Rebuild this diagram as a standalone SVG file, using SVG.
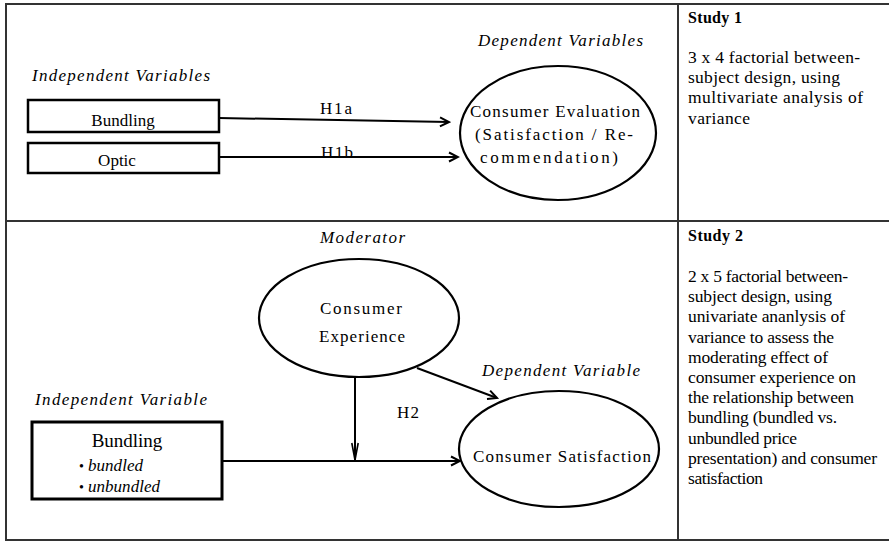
<svg xmlns="http://www.w3.org/2000/svg" width="889" height="543" viewBox="0 0 889 543">
<style>
text{font-family:"Liberation Serif","Times New Roman",serif;fill:#000;}
.it{font-style:italic;font-size:17px;}
.lb{font-size:17px;}
.st{font-size:17.5px;}
.hd{font-size:16px;font-weight:bold;}
.frame{stroke:#333;stroke-width:2;fill:none;}
.box{fill:#fff;stroke:#000;stroke-width:2.5;}
.ell{fill:#fff;stroke:#000;stroke-width:2.2;}
.con{stroke:#000;stroke-width:2;fill:none;}
</style>
<defs>
<marker id="ah" markerWidth="12" markerHeight="12" refX="10" refY="5" orient="auto" markerUnits="userSpaceOnUse" viewBox="0 0 12 10">
<path d="M1,0.5 L10,5 L1,9.5" fill="none" stroke="#000" stroke-width="2"/>
</marker>
<marker id="ahn" markerWidth="20" markerHeight="8" refX="18" refY="4" orient="auto" markerUnits="userSpaceOnUse" viewBox="0 0 20 8">
<path d="M1,0.8 L18,4 L1,7.2" fill="none" stroke="#000" stroke-width="1.6"/>
</marker>
</defs>
<rect width="889" height="543" fill="#fff"/>
<g id="frame">
<line class="frame" x1="5" y1="4" x2="889" y2="4"/>
<line class="frame" x1="5" y1="221" x2="889" y2="221"/>
<line class="frame" x1="5" y1="540" x2="889" y2="540"/>
<line class="frame" x1="6" y1="4" x2="6" y2="540"/>
<line class="frame" x1="678" y1="4" x2="678" y2="540"/>
</g>
<g id="labels">
<text class="it" x="32" y="81" textLength="178">Independent Variables</text>
<text class="it" x="478" y="46" textLength="165">Dependent Variables</text>
<text class="it" x="320" y="243" textLength="85">Moderator</text>
<text class="it" x="35" y="405" textLength="172">Independent Variable</text>
<text class="it" x="482" y="376" textLength="158">Dependent Variable</text>
</g>
<g id="connectors">
<line class="con" x1="219" y1="118" x2="449" y2="122" marker-end="url(#ah)"/>
<line class="con" x1="219" y1="157" x2="458" y2="157" marker-end="url(#ah)"/>
<line class="con" x1="222" y1="461" x2="460" y2="461" marker-end="url(#ah)"/>
<line class="con" x1="355" y1="377" x2="355" y2="460" marker-end="url(#ahn)"/>
<line class="con" x1="417" y1="368" x2="497" y2="398" marker-end="url(#ah)"/>
<text class="lb" x="320" y="114" textLength="32">H1a</text>
<text class="lb" x="321" y="158" textLength="32">H1b</text>
<text class="lb" x="397" y="418" textLength="22">H2</text>
</g>
<g id="node-bundling1">
<rect class="box" x="28" y="100" width="191" height="32"/>
<text class="lb" x="123" y="126" text-anchor="middle">Bundling</text>
</g>
<g id="node-optic">
<rect class="box" x="28" y="143" width="191" height="30"/>
<text class="lb" x="117" y="166" text-anchor="middle">Optic</text>
</g>
<g id="node-evaluation">
<ellipse class="ell" cx="558" cy="133" rx="98" ry="67"/>
<text class="lb" x="470" y="117" textLength="170">Consumer Evaluation</text>
<text class="lb" x="475" y="140" textLength="158">(Satisfaction / Re-</text>
<text class="lb" x="480" y="163" textLength="138">commendation)</text>
</g>
<g id="node-experience">
<ellipse class="ell" cx="359" cy="318" rx="100" ry="59"/>
<text class="lb" x="320" y="314" textLength="82">Consumer</text>
<text class="lb" x="319" y="342" textLength="86">Experience</text>
</g>
<g id="node-bundling2">
<rect x="32" y="422" width="190" height="77" fill="#fff" stroke="#000" stroke-width="3"/>
<text x="127" y="447" text-anchor="middle" font-size="19">Bundling</text>
<text x="79" y="471" font-size="14">•</text>
<text class="it" x="88" y="471" textLength="55">bundled</text>
<text x="79" y="492" font-size="14">•</text>
<text class="it" x="88" y="492" textLength="72">unbundled</text>
</g>
<g id="node-satisfaction">
<ellipse class="ell" cx="559" cy="449" rx="100" ry="58"/>
<text class="lb" x="473" y="462" textLength="178">Consumer Satisfaction</text>
</g>
<g id="study1">
<text class="hd" x="688" y="23" textLength="54">Study 1</text>
<text class="st" x="688" y="63" textLength="172">3 x 4 factorial  between-</text>
<text class="st" x="688" y="83" textLength="152">subject design, using</text>
<text class="st" x="688" y="103" textLength="175">multivariate  analysis  of</text>
<text class="st" x="688" y="123.5" textLength="62">variance</text>
</g>
<g id="study2">
<text class="hd" x="688" y="241" textLength="55">Study 2</text>
<text class="st" x="688" y="282" textLength="160">2 x 5 factorial  between-</text>
<text class="st" x="688" y="302.2" textLength="144">subject design, using</text>
<text class="st" x="688" y="322.4" textLength="157">univariate ananlysis  of</text>
<text class="st" x="688" y="342.6" textLength="146">variance to assess the</text>
<text class="st" x="688" y="362.8" textLength="140">moderating  effect  of</text>
<text class="st" x="688" y="383" textLength="168">consumer experience  on</text>
<text class="st" x="688" y="403.2" textLength="166">the relationship  between</text>
<text class="st" x="688" y="423.4" textLength="149">bundling (bundled vs.</text>
<text class="st" x="688" y="443.6" textLength="109">unbundled price</text>
<text class="st" x="688" y="463.8" textLength="189">presentation) and consumer</text>
<text class="st" x="688" y="484" textLength="75">satisfaction</text>
</g>
</svg>
